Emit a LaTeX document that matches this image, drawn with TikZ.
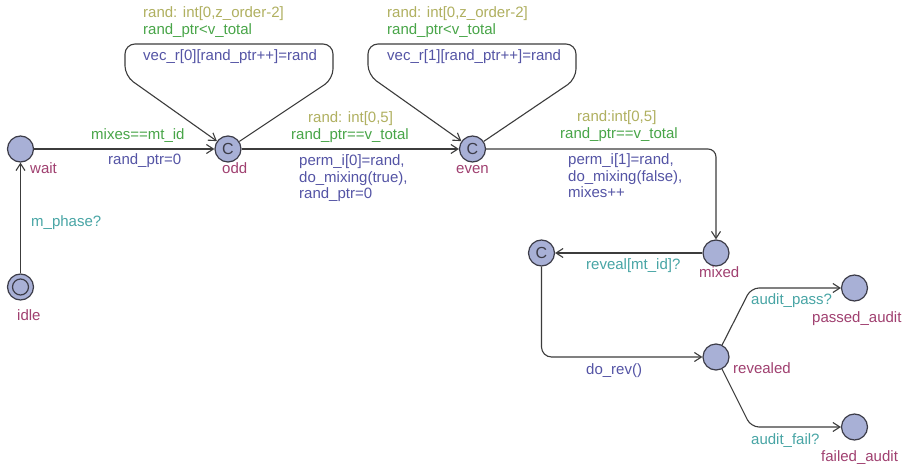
\documentclass[tikz,border=0pt]{standalone}
\usepackage{fontspec}
\setmainfont{Liberation Sans}
\usetikzlibrary{arrows.meta}

\definecolor{locfill}{RGB}{168,176,214}
\definecolor{locline}{RGB}{60,60,72}
\definecolor{edgecol}{RGB}{60,60,60}
\definecolor{namecol}{RGB}{160,64,112}
\definecolor{selcol}{RGB}{176,176,96}
\definecolor{guardcol}{RGB}{72,165,72}
\definecolor{synccol}{RGB}{72,165,165}
\definecolor{updcol}{RGB}{84,84,165}

\tikzset{
	loc/.style={circle,draw=locline,fill=locfill,line width=1.2pt,minimum size=26pt,inner sep=0pt},
	committed/.style={loc,font=\fontsize{16}{16}\selectfont,text=locline},
	trans/.style={draw=edgecol,line width=1.1pt,-{Straight Barb[length=7pt,width=9pt]}},
	lbl/.style={anchor=north west,yshift=6.5pt,inner sep=0pt,align=left,execute at begin node=\strut},
	locname/.style={lbl,text=namecol},
	sel/.style={lbl,text=selcol},
	guard/.style={lbl,text=guardcol},
	sync/.style={lbl,text=synccol},
	upd/.style={lbl,text=updcol}
}

\begin{document}
\begin{tikzpicture}[x=1pt,y=-1pt,font=\fontsize{15}{16.5}\selectfont]
		\useasboundingbox[fill=white] (0,0) rectangle (902,468);

		% locations
		\node[loc] (wait) at (20.5,149) {};
		\node[loc] (idle) at (20.5,287) {};
		\draw[locline,line width=1.2pt] (idle.center) circle (8pt);
		\node[committed] (odd) at (228,149) {C};
		\node[committed] (even) at (472.5,149) {C};
		\node[loc] (mixed) at (716,253) {};
		\node[committed] (rev) at (541.5,253) {C};
		\node[loc] (revealed) at (716,357) {};
		\node[loc] (passed) at (854.5,288) {};
		\node[loc] (failed) at (854.5,427) {};

		\node[locname] (waitname) at (30,168) {wait};
		\node[locname] (idlename) at (17,315) {idle};
		\node[locname] (oddname) at (222,168) {odd};
		\node[locname] (evenname) at (456,168) {even};
		\node[locname] (mixedname) at (699,272) {mixed};
		\node[locname] (revealedname) at (733,368) {revealed};
		\node[locname] (passedname) at (812,317) {passed\_audit};
		\node[locname] (failedname) at (821,456) {failed\_audit};

		% transitions
		\draw[trans] (idle) -- (wait);
		\draw[trans] (wait) -- (odd);
		\draw[trans,rounded corners=10pt] (odd) -- (333,79) -- (333,44) -- (125,44) -- (125,76) -- (odd);
		\draw[trans] (odd) -- (even);
		\draw[trans,rounded corners=10pt] (even) -- (576,79) -- (576,44) -- (368,44) -- (368,75) -- (even);
		\draw[trans,rounded corners=8pt] (even) -| (mixed);
		\draw[trans] (mixed) -- (rev);
		\draw[trans,rounded corners=10pt] (rev) |- (revealed);
		\draw[trans,rounded corners=8pt] (revealed) -- (751,288) -- (passed);
		\draw[trans,rounded corners=8pt] (revealed) -- (751,427) -- (failed);

		% labels
		\node[sync] (idlesync) at (31,221) {m\_phase?};
		\node[guard] (waitguard) at (91,134) {mixes==mt\_id};
		\node[upd] (waitupd) at (108,159) {rand\_ptr=0};

		\node[sel] (oddloopsel) at (143,12) {rand: int[0,z\_order-2]};
		\node[guard] (oddloopguard) at (143,29) {rand\_ptr<v\_total};
		\node[upd] (oddloopupd) at (143,55) {vec\_r[0][rand\_ptr++]=rand};

		\node[sel] (oddsel) at (308,117) {rand: int[0,5]};
		\node[guard] (oddguard) at (291,134) {rand\_ptr==v\_total};
		\node[upd] (oddupd) at (299,161) {perm\_i[0]=rand,\\do\_mixing(true),\\rand\_ptr=0};

		\node[sel] (evenloopsel) at (387,12) {rand: int[0,z\_order-2]};
		\node[guard] (evenloopguard) at (387,29) {rand\_ptr<v\_total};
		\node[upd] (evenloopupd) at (387,55) {vec\_r[1][rand\_ptr++]=rand};

		\node[sel] (evensel) at (577,116) {rand:int[0,5]};
		\node[guard] (evenguard) at (560,133) {rand\_ptr==v\_total};
		\node[upd] (evenupd) at (568,160) {perm\_i[1]=rand,\\do\_mixing(false),\\mixes++};

		\node[sync] (mixedsync) at (586,264) {reveal[mt\_id]?};
		\node[upd] (revupd) at (586,369) {do\_rev()};
		\node[sync] (passsync) at (751,299) {audit\_pass?};
		\node[sync] (failsync) at (751,439) {audit\_fail?};

	\end{tikzpicture}
\end{document}
